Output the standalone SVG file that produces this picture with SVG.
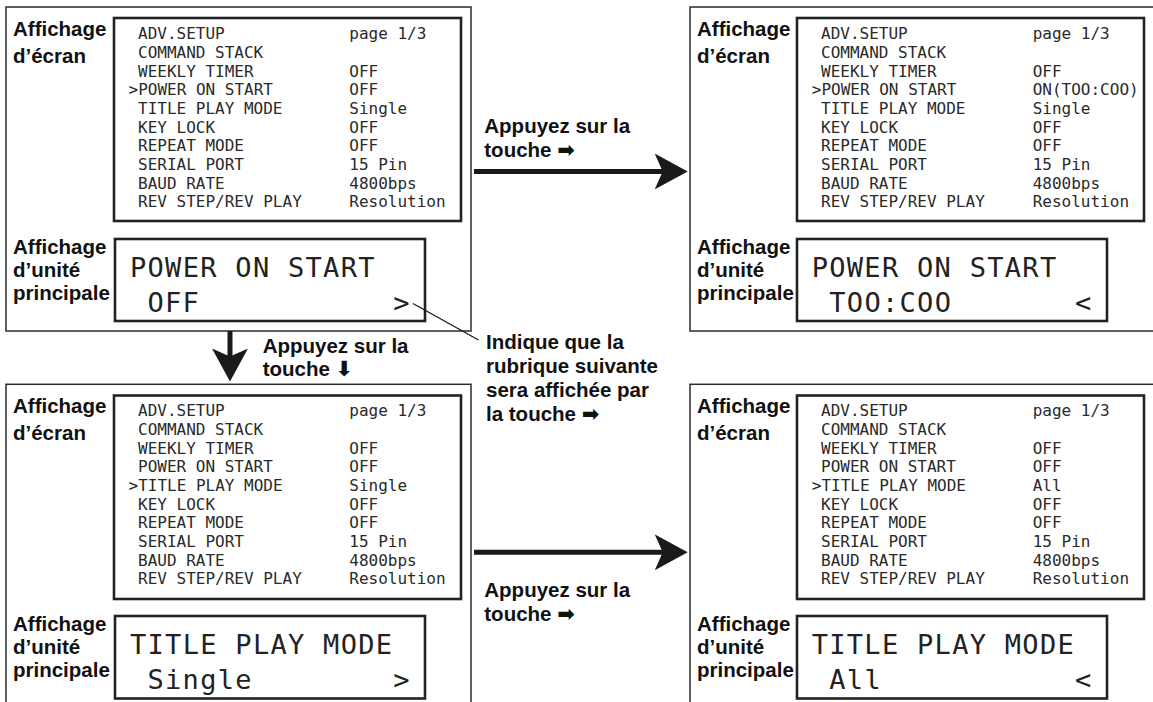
<svg xmlns="http://www.w3.org/2000/svg" width="1153" height="702" viewBox="0 0 1153 702">
<defs>
<style>
.frame{fill:none;stroke:#2b2b2b;stroke-width:1.5}
.box{fill:none;stroke:#222;stroke-width:2.6}
.lbl{font-family:"Liberation Sans",Arial,Helvetica,sans-serif;font-weight:bold;font-size:20.5px;fill:#111}
.sym{font-family:"DejaVu Sans",sans-serif;font-weight:bold;font-size:21px}
.scr{font-family:"DejaVu Sans Mono","Liberation Mono",monospace;font-size:16px;fill:#2a2a2a}
.lcd{font-family:"DejaVu Sans Mono","Liberation Mono",monospace;font-size:27px;letter-spacing:1.3px;fill:#222}
.shaft{fill:none;stroke:#1a1a1a;stroke-width:5}
.callout{fill:none;stroke:#1a1a1a;stroke-width:1.3}
</style>
<marker id="ah" viewBox="0 0 33 36" refX="10" refY="18" markerWidth="33" markerHeight="36" orient="auto" markerUnits="userSpaceOnUse">
<path d="M0,0 L33,18 L0,36 L8,18 Z" fill="#1a1a1a"/>
</marker>
</defs>
<rect width="1153" height="702" fill="#fff"/>

<!-- Top-left panel -->
<g id="panel-top-left">
<rect class="frame" x="6" y="7" width="465" height="324"/>
<text class="lbl" x="13" y="36">Affichage</text>
<text class="lbl" x="13" y="62.5">d’écran</text>
<rect class="box" x="114" y="18" width="347" height="203"/>
<g class="scr">
<text x="138" y="39.3">ADV.SETUP</text><text x="349.3" y="39.3">page 1/3</text>
<text x="138" y="58">COMMAND STACK</text>
<text x="138" y="76.6">WEEKLY TIMER</text><text x="349.3" y="76.6">OFF</text>
<text x="128.5" y="95.3">&gt;POWER ON START</text><text x="349.3" y="95.3">OFF</text>
<text x="138" y="114">TITLE PLAY MODE</text><text x="349.3" y="114">Single</text>
<text x="138" y="132.6">KEY LOCK</text><text x="349.3" y="132.6">OFF</text>
<text x="138" y="151.3">REPEAT MODE</text><text x="349.3" y="151.3">OFF</text>
<text x="138" y="170">SERIAL PORT</text><text x="349.3" y="170">15 Pin</text>
<text x="138" y="188.6">BAUD RATE</text><text x="349.3" y="188.6">4800bps</text>
<text x="138" y="207.3">REV STEP/REV PLAY</text><text x="349.3" y="207.3">Resolution</text>
</g>
<text class="lbl" x="13" y="253.5">Affichage</text>
<text class="lbl" x="13" y="277">d’unité</text>
<text class="lbl" x="13" y="300.3">principale</text>
<rect class="box" x="115" y="239" width="310" height="82"/>
<text class="lcd" x="130" y="277.3">POWER ON START</text>
<text class="lcd" x="147.5" y="311.7">OFF</text>
<text class="lcd" x="393.3" y="311.7">&gt;</text>
</g>

<!-- Top-right panel -->
<g id="panel-top-right">
<rect class="frame" x="690" y="7" width="480" height="324"/>
<text class="lbl" x="697" y="36">Affichage</text>
<text class="lbl" x="697" y="62.5">d’écran</text>
<rect class="box" x="797" y="18" width="347" height="203"/>
<g class="scr">
<text x="821" y="39.3">ADV.SETUP</text><text x="1032.7" y="39.3">page 1/3</text>
<text x="821" y="58">COMMAND STACK</text>
<text x="821" y="76.6">WEEKLY TIMER</text><text x="1032.7" y="76.6">OFF</text>
<text x="811.8" y="95.3">&gt;POWER ON START</text><text x="1032.7" y="95.3">ON(TOO:COO)</text>
<text x="821" y="114">TITLE PLAY MODE</text><text x="1032.7" y="114">Single</text>
<text x="821" y="132.6">KEY LOCK</text><text x="1032.7" y="132.6">OFF</text>
<text x="821" y="151.3">REPEAT MODE</text><text x="1032.7" y="151.3">OFF</text>
<text x="821" y="170">SERIAL PORT</text><text x="1032.7" y="170">15 Pin</text>
<text x="821" y="188.6">BAUD RATE</text><text x="1032.7" y="188.6">4800bps</text>
<text x="821" y="207.3">REV STEP/REV PLAY</text><text x="1032.7" y="207.3">Resolution</text>
</g>
<text class="lbl" x="697" y="253.5">Affichage</text>
<text class="lbl" x="697" y="277">d’unité</text>
<text class="lbl" x="697" y="300.3">principale</text>
<rect class="box" x="797" y="239" width="310" height="82"/>
<text class="lcd" x="811.7" y="277.3">POWER ON START</text>
<text class="lcd" x="829.3" y="311.7">TOO:COO</text>
<text class="lcd" x="1075" y="311.7">&lt;</text>
</g>

<!-- Bottom-left panel -->
<g id="panel-bottom-left">
<rect class="frame" x="6" y="384.3" width="465" height="330"/>
<text class="lbl" x="13" y="413">Affichage</text>
<text class="lbl" x="13" y="439.5">d’écran</text>
<rect class="box" x="114" y="395.5" width="347" height="203.5"/>
<g class="scr">
<text x="138" y="416.3">ADV.SETUP</text><text x="349.3" y="416.3">page 1/3</text>
<text x="138" y="435">COMMAND STACK</text>
<text x="138" y="453.6">WEEKLY TIMER</text><text x="349.3" y="453.6">OFF</text>
<text x="138" y="472.3">POWER ON START</text><text x="349.3" y="472.3">OFF</text>
<text x="128.5" y="491">&gt;TITLE PLAY MODE</text><text x="349.3" y="491">Single</text>
<text x="138" y="509.6">KEY LOCK</text><text x="349.3" y="509.6">OFF</text>
<text x="138" y="528.3">REPEAT MODE</text><text x="349.3" y="528.3">OFF</text>
<text x="138" y="547">SERIAL PORT</text><text x="349.3" y="547">15 Pin</text>
<text x="138" y="565.6">BAUD RATE</text><text x="349.3" y="565.6">4800bps</text>
<text x="138" y="584.3">REV STEP/REV PLAY</text><text x="349.3" y="584.3">Resolution</text>
</g>
<text class="lbl" x="13" y="630.5">Affichage</text>
<text class="lbl" x="13" y="654">d’unité</text>
<text class="lbl" x="13" y="677.3">principale</text>
<rect class="box" x="115" y="616" width="310" height="82.5"/>
<text class="lcd" x="130" y="654.3">TITLE PLAY MODE</text>
<text class="lcd" x="147.5" y="688.7">Single</text>
<text class="lcd" x="393.3" y="688.7">&gt;</text>
</g>

<!-- Bottom-right panel -->
<g id="panel-bottom-right">
<rect class="frame" x="690" y="384.3" width="480" height="330"/>
<text class="lbl" x="697" y="413">Affichage</text>
<text class="lbl" x="697" y="439.5">d’écran</text>
<rect class="box" x="797" y="395.5" width="347" height="203.5"/>
<g class="scr">
<text x="821" y="416.3">ADV.SETUP</text><text x="1032.7" y="416.3">page 1/3</text>
<text x="821" y="435">COMMAND STACK</text>
<text x="821" y="453.6">WEEKLY TIMER</text><text x="1032.7" y="453.6">OFF</text>
<text x="821" y="472.3">POWER ON START</text><text x="1032.7" y="472.3">OFF</text>
<text x="811.8" y="491">&gt;TITLE PLAY MODE</text><text x="1032.7" y="491">All</text>
<text x="821" y="509.6">KEY LOCK</text><text x="1032.7" y="509.6">OFF</text>
<text x="821" y="528.3">REPEAT MODE</text><text x="1032.7" y="528.3">OFF</text>
<text x="821" y="547">SERIAL PORT</text><text x="1032.7" y="547">15 Pin</text>
<text x="821" y="565.6">BAUD RATE</text><text x="1032.7" y="565.6">4800bps</text>
<text x="821" y="584.3">REV STEP/REV PLAY</text><text x="1032.7" y="584.3">Resolution</text>
</g>
<text class="lbl" x="697" y="630.5">Affichage</text>
<text class="lbl" x="697" y="654">d’unité</text>
<text class="lbl" x="697" y="677.3">principale</text>
<rect class="box" x="797" y="616" width="310" height="82.5"/>
<text class="lcd" x="811.7" y="654.3">TITLE PLAY MODE</text>
<text class="lcd" x="829.3" y="688.7">All</text>
<text class="lcd" x="1075" y="688.7">&lt;</text>
</g>

<!-- Connectors -->
<g id="connectors">
<path class="shaft" d="M474,171.5 H664.7" marker-end="url(#ah)"/>
<path class="shaft" d="M474,552.3 H664.7" marker-end="url(#ah)"/>
<path class="shaft" d="M230,331 V358.5" marker-end="url(#ah)"/>
<path class="callout" d="M413,303.5 L478.5,340"/>
</g>

<!-- Connector labels -->
<g id="labels">
<text class="lbl" x="484.3" y="132.7">Appuyez sur la</text>
<text class="lbl" x="484.3" y="156.7">touche <tspan class="sym">➡</tspan></text>
<text class="lbl" x="484.3" y="596.7">Appuyez sur la</text>
<text class="lbl" x="484.3" y="620.5">touche <tspan class="sym">➡</tspan></text>
<text class="lbl" x="262.7" y="352.7">Appuyez sur la</text>
<text class="lbl" x="262.7" y="375.5">touche <tspan class="sym">⬇</tspan></text>
<text class="lbl" x="486" y="349.3">Indique que la</text>
<text class="lbl" x="486" y="373.3">rubrique suivante</text>
<text class="lbl" x="486" y="397.3">sera affichée par</text>
<text class="lbl" x="486" y="421">la touche <tspan class="sym">➡</tspan></text>
</g>
</svg>
